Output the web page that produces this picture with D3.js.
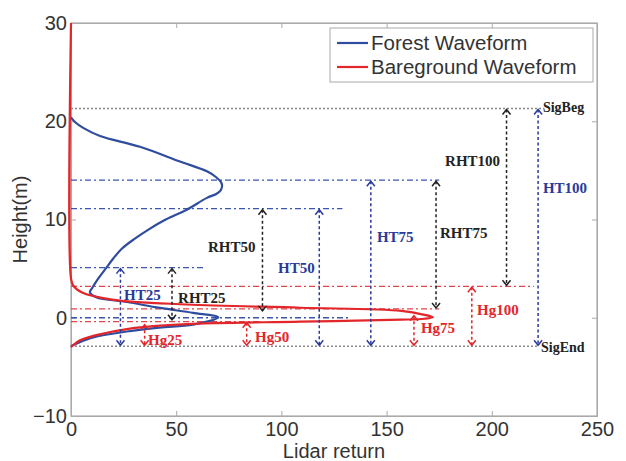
<!DOCTYPE html>
<html><head><meta charset="utf-8">
<script src="https://cdn.jsdelivr.net/npm/d3@7"></script>
<style>body{margin:0;background:#fff}svg{display:block}</style>
</head><body><svg id="c" width="626" height="461"></svg>
<script>
// ---- data ----
const xTicks = [0, 50, 100, 150, 200, 250];
const yTicks = [-10, 0, 10, 20, 30];
const seriesNames = ["Forest Waveform", "Bareground Waveform"];
// Forest waveform: [lidar return, height]
const forestReturn = [0, 2, 6, 13.8, 32.8, 51.8, 64.6, 69, 71.3, 71.8, 71.2, 69, 64.6, 55, 45, 37, 30, 24, 20, 16.5, 13, 10, 9, 12, 26.6, 42.3, 58, 70, 58, 42, 26.6, 10.5, 3, 0];
const forestHeight = [20.4, 19.9, 19.3, 18.5, 17.4, 15.9, 14.9, 14.3, 13.8, 13.4, 13.0, 12.6, 12.2, 11.0, 10.0, 9.0, 8.0, 7.0, 6.0, 5.0, 4.0, 3.0, 2.6, 2.1, 1.6, 1.0, 0.5, 0.05, -0.7, -1.0, -1.4, -2.0, -2.6, -2.9];
// Bareground waveform
const groundReturn = [0, 0, 1, 5, 19.5, 55, 109, 157, 168, 172, 168, 157, 109, 55, 28, 11.5, 4.3, 1, 0];
const groundHeight = [30, 4.0, 3.3, 2.6, 1.85, 1.35, 1.02, 0.7, 0.3, 0.05, -0.1, -0.2, -0.4, -0.65, -1.1, -1.8, -2.3, -2.8, -3.0];
// Reference levels: height, extent in lidar return, kind
const levelHeight = [21.3, 14.0, 11.1, 5.1, 3.2, 0.9, 0.0, -0.4, -2.9];
const levelEnd    = [225, 175, 129, 63, 220, 175, 133, 90, 222];
const levelKind   = ["sig", "forest", "forest", "forest", "ground", "ground", "forest", "ground", "sig"];
// Metric arrows
const arrowName   = ["HT25", "RHT25", "Hg25", "RHT50", "HT50", "Hg50", "HT75", "RHT75", "Hg75", "Hg100", "RHT100", "HT100"];
const arrowKind   = ["HT", "RHT", "Hg", "RHT", "HT", "Hg", "HT", "RHT", "Hg", "Hg", "RHT", "HT"];
const arrowX      = [23.5, 48, 35, 91, 118, 83.5, 142.5, 173.5, 163, 190.5, 207, 222];
const arrowTop    = [5.1, 5.1, -0.6, 11.1, 11.1, -0.4, 14.0, 14.0, 0.3, 3.2, 21.3, 21.3];
const arrowBottom = [-2.9, -0.3, -2.9, 0.6, -2.9, -2.9, -2.9, 0.9, -2.9, -2.9, 3.2, -2.9];
// Label anchors (data units)
const labelX = [25.2, 50.9, 36.6, 65.1, 98.4, 87.5, 145.4, 175.4, 166.3, 193, 177.8, 224.3];
const labelY = [1.83, 1.53, -2.75, 6.71, 4.58, -2.44, 7.73, 8.14, -1.53, 0.31, 15.46, 12.72];
const sigNames = ["SigBeg", "SigEnd"];
const sigLabelX = [224.3, 223.4];
const sigLabelY = [20.96, -3.46];

// ---- drawing ----
const svg = d3.select("#c");
const x = d3.scaleLinear().domain([0, 250]).range([71, 597]);
const y = d3.scaleLinear().domain([-10, 30]).range([416, 23]);
const BLUE = "#2f4c9e", RED = "#e3262a";
const colorOf = {HT: "#2a3a9a", RHT: "#222", Hg: "#e3262a", forest: "#3a56b0", ground: "#e0454a", sig: "#888"};
const tickFont = "'Liberation Sans', Arial, sans-serif";
const serif = "'Liberation Serif', 'Times New Roman', serif";

// axes box
svg.append("rect").attr("x", x(0)).attr("y", y(30)).attr("width", x(250) - x(0)).attr("height", y(-10) - y(30))
  .attr("fill", "#fff").attr("stroke", "#aaa").attr("stroke-width", 1.2);

const xAxis = d3.axisBottom(x).tickValues(xTicks).tickSizeInner(-5).tickSizeOuter(0).tickPadding(8);
const gx = svg.append("g").attr("transform", `translate(0,${y(-10)})`).call(xAxis);
const xAxisTop = d3.axisTop(x).tickValues(xTicks).tickSizeInner(-5).tickSizeOuter(0).tickFormat("");
svg.append("g").attr("transform", `translate(0,${y(30)})`).call(xAxisTop);
const yAxis = d3.axisLeft(y).tickValues(yTicks).tickSizeInner(-5).tickSizeOuter(0).tickPadding(4);
const gy = svg.append("g").attr("transform", `translate(${x(0)},0)`).call(yAxis);
const yAxisR = d3.axisRight(y).tickValues(yTicks).tickSizeInner(-5).tickSizeOuter(0).tickFormat("");
svg.append("g").attr("transform", `translate(${x(250)},0)`).call(yAxisR);
svg.selectAll(".domain").attr("stroke", "#aaa");
svg.selectAll(".tick line").attr("stroke", "#aaa");
gx.selectAll("text").attr("font-family", tickFont).attr("font-size", 20).attr("fill", "#333").attr("dy", "0.6em");
gy.selectAll("text").attr("font-family", tickFont).attr("font-size", 20).attr("fill", "#333");

svg.append("text").attr("x", (x(0) + x(250)) / 2).attr("y", 458).attr("text-anchor", "middle")
  .attr("font-family", tickFont).attr("font-size", 20).attr("fill", "#333").text("Lidar return");
svg.append("text").attr("transform", `translate(27,${(y(30) + y(-10)) / 2}) rotate(-90)`).attr("text-anchor", "middle")
  .attr("font-family", tickFont).attr("font-size", 20).attr("fill", "#333").text("Height(m)");

// reference levels
const dashOf = {sig: "2,2", forest: "6,3,2,3", ground: "6,3,2,3"};
levelHeight.forEach((h, i) => {
  svg.append("line").attr("x1", x(0)).attr("x2", x(levelEnd[i])).attr("y1", y(h)).attr("y2", y(h))
    .attr("stroke", colorOf[levelKind[i]]).attr("stroke-width", 1.3).attr("stroke-dasharray", dashOf[levelKind[i]]);
});

// waveforms
const line = d3.line().x(d => x(d[0])).y(d => y(d[1])).curve(d3.curveCatmullRom.alpha(0.5));
const groundPts = groundReturn.map((v, i) => [v, groundHeight[i]]);
const forestPts = forestReturn.map((v, i) => [v, forestHeight[i]]);
svg.append("path").attr("d", line(forestPts)).attr("fill", "none").attr("stroke", BLUE).attr("stroke-width", 2.2);
svg.append("path").attr("d", line(groundPts)).attr("fill", "none").attr("stroke", RED).attr("stroke-width", 2.2);

// arrows
arrowName.forEach((n, i) => {
  const c = colorOf[arrowKind[i]];
  const ax = x(arrowX[i]), yt = y(arrowTop[i]), yb = y(arrowBottom[i]);
  const g = svg.append("g").attr("stroke", c).attr("fill", "none").attr("stroke-width", 1.5);
  g.append("line").attr("x1", ax).attr("x2", ax).attr("y1", yt + 1).attr("y2", yb - 1).attr("stroke-dasharray", "3,2.5");
  g.append("polyline").attr("points", `${ax - 4},${yt + 6} ${ax},${yt + 1} ${ax + 4},${yt + 6}`);
  g.append("polyline").attr("points", `${ax - 4},${yb - 6} ${ax},${yb - 1} ${ax + 4},${yb - 6}`);
  svg.append("text").attr("x", x(labelX[i])).attr("y", y(labelY[i])).attr("font-family", serif)
    .attr("font-weight", "bold").attr("font-size", 15).attr("fill", c).text(n);
});
sigNames.forEach((n, i) => {
  svg.append("text").attr("x", x(sigLabelX[i])).attr("y", y(sigLabelY[i])).attr("font-family", serif)
    .attr("font-weight", "bold").attr("font-size", 14).attr("fill", "#222").text(n);
});

// legend
const lg = svg.append("g");
lg.append("rect").attr("x", 330).attr("y", 28).attr("width", 263).attr("height", 54)
  .attr("fill", "#fff").attr("stroke", "#aaa").attr("stroke-width", 1);
[BLUE, RED].forEach((c, i) => {
  const yy = 43 + i * 24;
  lg.append("line").attr("x1", 337).attr("x2", 368).attr("y1", yy).attr("y2", yy).attr("stroke", c).attr("stroke-width", 2.2);
  lg.append("text").attr("x", 371).attr("y", yy).attr("dy", "0.36em").attr("font-family", tickFont)
    .attr("font-size", 20.5).attr("fill", "#333").text(seriesNames[i]);
});
</script></body></html>
